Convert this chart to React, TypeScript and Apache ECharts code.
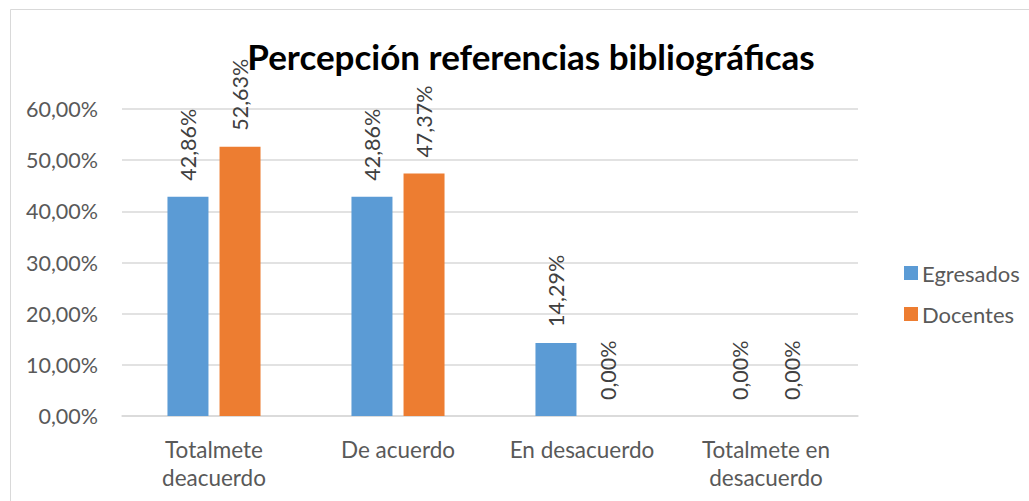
import React, { useEffect, useRef } from "react";
import * as echarts from "echarts";

const categories = ["Totalmete\ndeacuerdo", "De acuerdo", "En desacuerdo", "Totalmete en\ndesacuerdo"];
const egresados = [42.86, 42.86, 14.29, 0.0];
const docentes = [52.63, 47.37, 0.0, 0.0];
const seriesNames = ["Egresados", "Docentes"];
const title = "Percepción referencias bibliográficas";

const FONT = "Lato, 'Open Sans', sans-serif";
const fmt = (v: number) => v.toFixed(2).replace(".", ",") + "%";

export default function App() {
  const ref = useRef<HTMLDivElement>(null);
  useEffect(() => {
    document.body.style.margin = "0";
    const chart = echarts.init(ref.current!, null, { renderer: "svg" });
    const label = {
      show: true,
      position: "top",
      rotate: 90,
      align: "left",
      verticalAlign: "middle",
      distance: 16,
      fontSize: 21.5,
      fontFamily: FONT,
      color: "#404040",
      formatter: (p: any) => fmt(p.value),
    };
    chart.setOption({
      animation: false,
      backgroundColor: "#ffffff",
      title: {
        text: title,
        left: 526,
        top: 33,
        textAlign: "center",
        textStyle: { fontSize: 35, fontWeight: "bold", color: "#000000", fontFamily: FONT },
      },
      graphic: [
        {
          type: "rect",
          shape: { x: 10.5, y: 9.5, width: 1100, height: 600 },
          style: { fill: "none", stroke: "#D9D9D9", lineWidth: 1 },
          silent: true,
        },
      ],
      legend: {
        orient: "vertical",
        left: 899,
        top: 257,
        itemWidth: 14,
        itemHeight: 14,
        itemGap: 19,
        icon: "rect",
        textStyle: { fontSize: 22, color: "#595959", fontFamily: FONT, padding: [0, 0, 0, -1] },
        data: seriesNames,
      },
      grid: { left: 122, right: 171, top: 109, bottom: 85 },
      xAxis: {
        type: "category",
        data: categories,
        axisLine: { show: true, lineStyle: { color: "#D9D9D9", width: 1.5 } },
        axisTick: { show: false },
        axisLabel: {
          interval: 0,
          fontSize: 22.5,
          color: "#595959",
          fontFamily: FONT,
          margin: 19,
          lineHeight: 28,
        },
      },
      yAxis: {
        type: "value",
        min: 0,
        max: 60,
        interval: 10,
        axisLine: { show: false },
        axisTick: { show: false },
        splitLine: { lineStyle: { color: "#D9D9D9", width: 1.5 } },
        axisLabel: {
          fontSize: 21.5,
          color: "#595959",
          fontFamily: FONT,
          margin: 24,
          formatter: (v: number) => fmt(v),
        },
      },
      series: [
        {
          name: seriesNames[0],
          type: "bar",
          data: egresados,
          barWidth: 41,
          barGap: "27%",
          itemStyle: { color: "#5B9BD5" },
          label,
        },
        {
          name: seriesNames[1],
          type: "bar",
          data: docentes,
          barWidth: 41,
          itemStyle: { color: "#ED7D31" },
          label,
        },
      ],
    });
    return () => chart.dispose();
  }, []);
  return <div ref={ref} style={{ width: 1029, height: 501 }} />;
}
